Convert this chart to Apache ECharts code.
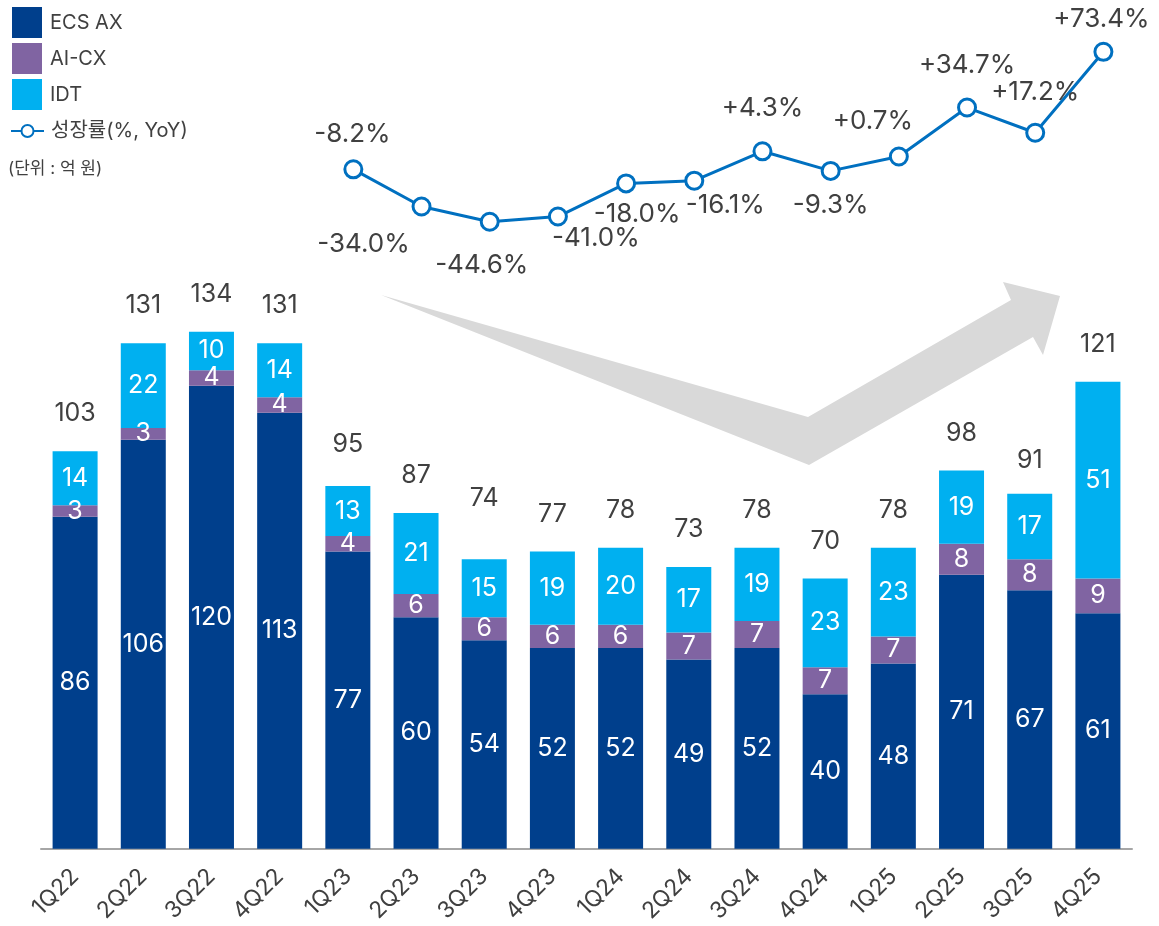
<!DOCTYPE html>
<html>
<head>
<meta charset="utf-8">
<script src="https://cdn.jsdelivr.net/npm/echarts@6/dist/echarts.min.js"></script>
<style>
  html, body { margin: 0; padding: 0; background: #fff; }
  #chart { width: 1159px; height: 926px; }
</style>
</head>
<body>
<div id="chart"></div>
<script>
// quarterly revenue (억 원)
var quarters = ["1Q22", "2Q22", "3Q22", "4Q22", "1Q23", "2Q23", "3Q23", "4Q23",
  "1Q24", "2Q24", "3Q24", "4Q24", "1Q25", "2Q25", "3Q25", "4Q25"];
var ecsAx = [86, 106, 120, 113, 77, 60, 54, 52, 52, 49, 52, 40, 48, 71, 67, 61];
var aiCx = [3, 3, 4, 4, 4, 6, 6, 6, 6, 7, 7, 7, 7, 8, 8, 9];
var idt = [14, 22, 10, 14, 13, 21, 15, 19, 20, 17, 19, 23, 23, 19, 17, 51];
var totals = [103, 131, 134, 131, 95, 87, 74, 77, 78, 73, 78, 70, 78, 98, 91, 121];
// YoY growth (%), none for 2022
var growth = [null, null, null, null, -8.2, -34.0, -44.6, -41.0, -18.0, -16.1, 4.3, -9.3, 0.7, 34.7, 17.2, 73.4];

// where each growth label sits relative to its point
var growthLabelOffset = {
  4: [-1, -35], 5: [-58, 38], 6: [-8, 43], 7: [38, 22], 8: [11, 31], 9: [31, 25],
  10: [0, -43], 11: [0, 34], 12: [-26, -35], 13: [0, -42], 14: [0, -41], 15: [-2, -33]
};
// the 3Q23 total label sits higher in the original
var totalLabelOffset = { 6: [0, -27] };

var FONT = "Inter, 'Noto Sans CJK KR', sans-serif";
var TEXT = "#404040";

var chart = echarts.init(document.getElementById("chart"));

function fmtGrowth(v) {
  return (v > 0 ? "+" : "") + v.toFixed(1) + "%";
}

var growthData = growth.map(function (v, i) {
  if (v === null) return null;
  var off = growthLabelOffset[i] || [0, -35];
  return { value: v, label: { offset: off } };
});

var totalData = totals.map(function (v, i) {
  var off = totalLabelOffset[i];
  return off ? { value: v, label: { offset: off } } : v;
});

var innerLabel = {
  show: true,
  position: "inside",
  color: "#fff",
  fontSize: 25,
  fontFamily: FONT
};

chart.setOption({
  animation: false,
  textStyle: { fontFamily: FONT },
  legend: [
    {
      data: ["ECS AX", "AI-CX", "IDT"],
      orient: "vertical",
      left: 12,
      top: 7,
      padding: 0,
      icon: "rect",
      itemWidth: 30,
      itemHeight: 31,
      itemGap: 5,
      textStyle: { fontSize: 20, color: TEXT, fontFamily: FONT, padding: [0, 0, 0, 3] }
    },
    {
      data: ["성장률(%, YoY)"],
      orient: "vertical",
      left: 10,
      top: 121,
      padding: 0,
      itemWidth: 33,
      itemHeight: 15,
      textStyle: { fontSize: 20, color: TEXT, fontFamily: FONT, padding: [0, 0, 0, 2] }
    }
  ],
  graphic: [
    {
      type: "text",
      left: 8,
      top: 160,
      style: { text: "(단위 : 억 원)", fontSize: 17, fill: TEXT, fontFamily: FONT }
    },
    {
      // big grey background arrow
      type: "polygon",
      z: 0,
      shape: {
        points: [[381, 295], [808, 417], [1011, 300], [1003, 282], [1060, 296],
          [1043, 355], [1033, 337], [809, 465]]
      },
      style: { fill: "#D9D9D9" }
    }
  ],
  grid: [
    { left: 41, right: 27, top: 77, bottom: 77 },
    { left: 46.5, right: 21.5, top: 20.7, height: 237.6 }
  ],
  xAxis: [
    {
      type: "category",
      gridIndex: 0,
      data: quarters,
      axisLine: { lineStyle: { color: "#A6A6A6", width: 2 } },
      axisTick: { show: false },
      axisLabel: { rotate: 45, margin: 24, fontSize: 23, color: TEXT, fontFamily: FONT }
    },
    { type: "category", gridIndex: 1, data: quarters, show: false }
  ],
  yAxis: [
    { type: "value", gridIndex: 0, min: 0, max: 200, show: false, splitLine: { show: false } },
    { type: "value", gridIndex: 1, min: -70, max: 95, show: false, splitLine: { show: false } }
  ],
  series: [
    {
      name: "ECS AX",
      type: "bar",
      stack: "rev",
      barWidth: 45,
      itemStyle: { color: "#003F8C" },
      label: innerLabel,
      data: ecsAx
    },
    {
      name: "AI-CX",
      type: "bar",
      stack: "rev",
      barWidth: 45,
      itemStyle: { color: "#8064A2" },
      label: innerLabel,
      data: aiCx
    },
    {
      name: "IDT",
      type: "bar",
      stack: "rev",
      barWidth: 45,
      itemStyle: { color: "#00B0F0" },
      label: innerLabel,
      data: idt
    },
    {
      name: "total",
      type: "bar",
      barWidth: 45,
      barGap: "-100%",
      itemStyle: { color: "rgba(0,0,0,0)" },
      label: {
        show: true,
        position: "top",
        distance: 25,
        color: TEXT,
        fontSize: 25,
        fontFamily: FONT
      },
      silent: true,
      data: totalData
    },
    {
      name: "성장률(%, YoY)",
      type: "line",
      xAxisIndex: 1,
      yAxisIndex: 1,
      connectNulls: false,
      symbol: "circle",
      symbolSize: 17,
      lineStyle: { color: "#0070C0", width: 3 },
      itemStyle: { color: "#fff", borderColor: "#0070C0", borderWidth: 3 },
      label: {
        show: true,
        position: "inside",
        color: TEXT,
        fontSize: 26,
        fontFamily: FONT,
        formatter: function (p) { return fmtGrowth(p.value); }
      },
      z: 5,
      data: growthData
    }
  ]
});
</script>
</body>
</html>
